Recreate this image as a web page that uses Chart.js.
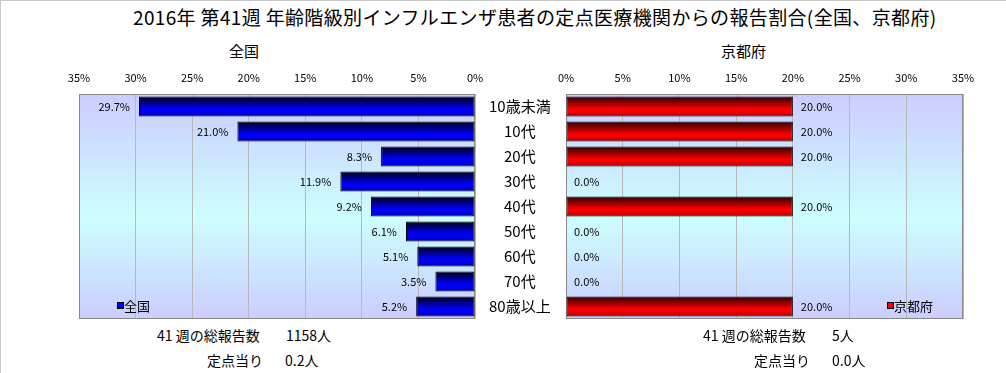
<!DOCTYPE html>
<html><head><meta charset="utf-8">
<script src="https://cdn.jsdelivr.net/npm/chart.js@4"></script>
<style>
html,body{margin:0;padding:0;background:#fff;}
#wrap{position:relative;width:1006px;height:373px;overflow:hidden;font-family:"Noto Sans CJK JP","Noto Sans",sans-serif;color:#000;}
#frame{position:absolute;left:0;top:0;width:1006px;height:373px;border-top:1px solid #c8c8c8;border-left:1px solid #c8c8c8;box-sizing:border-box;}
.t{position:absolute;white-space:nowrap;line-height:1;}
canvas{position:absolute;}
</style></head>
<body><div id="wrap">
<div id="frame"></div>
<div class="t" id="title" style="left:133px;top:7px;font-size:19px;letter-spacing:0.35px;">2016年 第41週 年齢階級別インフルエンザ患者の定点医療機関からの報告割合(全国、京都府)</div>
<div class="t" style="left:229px;top:43px;font-size:15px;">全国</div>
<div class="t" style="left:721px;top:43px;font-size:15px;">京都府</div>
<canvas id="cL" width="566" height="260" style="left:0;top:60px;"></canvas>
<canvas id="cR" width="466" height="260" style="left:540px;top:60px;"></canvas>
<div class="t" style="left:157px;top:328px;font-size:14px;">41 週の総報告数</div>
<div class="t" style="left:286px;top:328px;font-size:14px;">1158人</div>
<div class="t" style="left:207px;top:353px;font-size:14px;">定点当り</div>
<div class="t" style="left:285px;top:353px;font-size:14px;">0.2人</div>
<div class="t" style="left:703px;top:328px;font-size:14px;">41 週の総報告数</div>
<div class="t" style="left:832px;top:328px;font-size:14px;">5人</div>
<div class="t" style="left:754px;top:353px;font-size:14px;">定点当り</div>
<div class="t" style="left:832px;top:353px;font-size:14px;">0.0人</div>
</div>
<script>
const categories = ['10歳未満','10代','20代','30代','40代','50代','60代','70代','80歳以上'];
const nationalValues = [29.7, 21.0, 8.3, 11.9, 9.2, 6.1, 5.1, 3.5, 5.2];
const kyotoValues = [20.0, 20.0, 20.0, 0.0, 20.0, 0.0, 0.0, 0.0, 20.0];
const axisTicks = [0, 5, 10, 15, 20, 25, 30, 35];
const seriesNames = ['全国', '京都府'];

const FONT = '"Noto Sans CJK JP","Noto Sans",sans-serif';
const blueStops = [[0,'#000018'],[0.25,'#000070'],[0.65,'#0000ff'],[0.85,'#0000e0'],[1,'#000080']];
const redStops = [[0,'#280000'],[0.25,'#800000'],[0.65,'#ff0000'],[0.85,'#e00000'],[1,'#800000']];

function barGradient(stops){
  return function(c){
    const chart = c.chart, ys = chart.scales && chart.scales.y;
    if (!ys || c.dataIndex === undefined || !chart.chartArea) return stops[2][1];
    const cy = ys.getPixelForValue(c.dataIndex);
    const h = ys.height / categories.length * 0.8;
    const g = chart.ctx.createLinearGradient(0, cy - h/2, 0, cy + h/2);
    stops.forEach(s => g.addColorStop(s[0], s[1]));
    return g;
  };
}

const areaPlugin = {
  id: 'area',
  beforeDraw(chart){
    const a = chart.chartArea, ctx = chart.ctx;
    const g = ctx.createLinearGradient(0, a.top, 0, a.bottom);
    g.addColorStop(0, '#ccccff');
    g.addColorStop(0.55, '#ccffff');
    g.addColorStop(1, '#ccccff');
    ctx.save(); ctx.fillStyle = g;
    ctx.fillRect(a.left, a.top, a.right - a.left, a.bottom - a.top);
    ctx.restore();
  },
  beforeDatasetsDraw(chart){
    const a = chart.chartArea, ctx = chart.ctx;
    ctx.save(); ctx.strokeStyle = '#888888'; ctx.lineWidth = 1;
    ctx.strokeRect(Math.round(a.left)+0.5, Math.round(a.top)+0.5, Math.round(a.right-a.left)-1, Math.round(a.bottom-a.top)-1);
    ctx.restore();
  },
  afterDatasetsDraw(chart, args, opts){
    const ctx = chart.ctx, meta = chart.getDatasetMeta(0), ds = chart.data.datasets[0];
    ctx.save();
    ctx.font = '11px ' + FONT; ctx.fillStyle = '#000'; ctx.textBaseline = 'middle';
    meta.data.forEach((el, i) => {
      const txt = ds.data[i].toFixed(1) + '%';
      if (opts.side === 'left') { ctx.textAlign = 'right'; ctx.fillText(txt, el.x - 9, el.y); }
      else { ctx.textAlign = 'left'; ctx.fillText(txt, el.x + 8, el.y); }
    });
    // legend inside plot
    const a = chart.chartArea;
    const lx = a.left + opts.legendX, ly = a.bottom - 13;
    ctx.fillStyle = opts.legendColor; ctx.strokeStyle = '#000';
    ctx.fillRect(lx, ly - 3, 6, 6); ctx.strokeRect(lx + 0.5, ly - 3.5, 6, 6);
    ctx.fillStyle = '#000'; ctx.textAlign = 'left'; ctx.font = '13px ' + FONT;
    ctx.fillText(ds.label, lx + 7, ly);
    ctx.restore();
  }
};

function makeChart(id, values, name, stops, isLeft){
  return new Chart(document.getElementById(id), {
    type: 'bar',
    data: { labels: categories, datasets: [{
      label: name, data: values, backgroundColor: barGradient(stops),
      borderColor: '#000', borderWidth: 1, borderSkipped: false,
      barPercentage: 1, categoryPercentage: 0.8
    }]},
    plugins: [areaPlugin],
    options: {
      indexAxis: 'y', responsive: false, animation: false, devicePixelRatio: 1,
      layout: { padding: isLeft ? {left:79, right:0, top:14, bottom:1} : {left:26, right:43, top:14, bottom:1} },
      plugins: {
        legend: {display:false}, tooltip: {enabled:false},
        area: { side: isLeft ? 'left' : 'right', legendX: isLeft ? 38 : 321, legendColor: isLeft ? '#0000ff' : '#ff0000' }
      },
      scales: {
        x: {
          position: 'top', reverse: isLeft, min: 0, max: 35,
          afterBuildTicks(s){ s.ticks = axisTicks.map(v => ({value: v})); },
          afterFit(s){ s.height = 20; s.paddingLeft = 0; s.paddingRight = 0; },
          ticks: { callback: v => v + '%', font: {size: 11, family: FONT}, color: '#000', padding: 10, maxRotation: 0 },
          grid: { color: '#b8b8b8', drawTicks: false },
          border: { display: false }
        },
        y: isLeft ? {
          position: 'right',
          afterFit(s){ s.width = 91; s.paddingTop = 0; s.paddingBottom = 0; },
          ticks: { crossAlign: 'center', font: {size: 15, family: FONT}, color: '#000', padding: 14 },
          grid: { display: false, drawTicks: false }, border: { display: false }
        } : { display: false }
      }
    }
  });
}

makeChart('cL', nationalValues, seriesNames[0], blueStops, true);
makeChart('cR', kyotoValues, seriesNames[1], redStops, false);
</script>
</body></html>
